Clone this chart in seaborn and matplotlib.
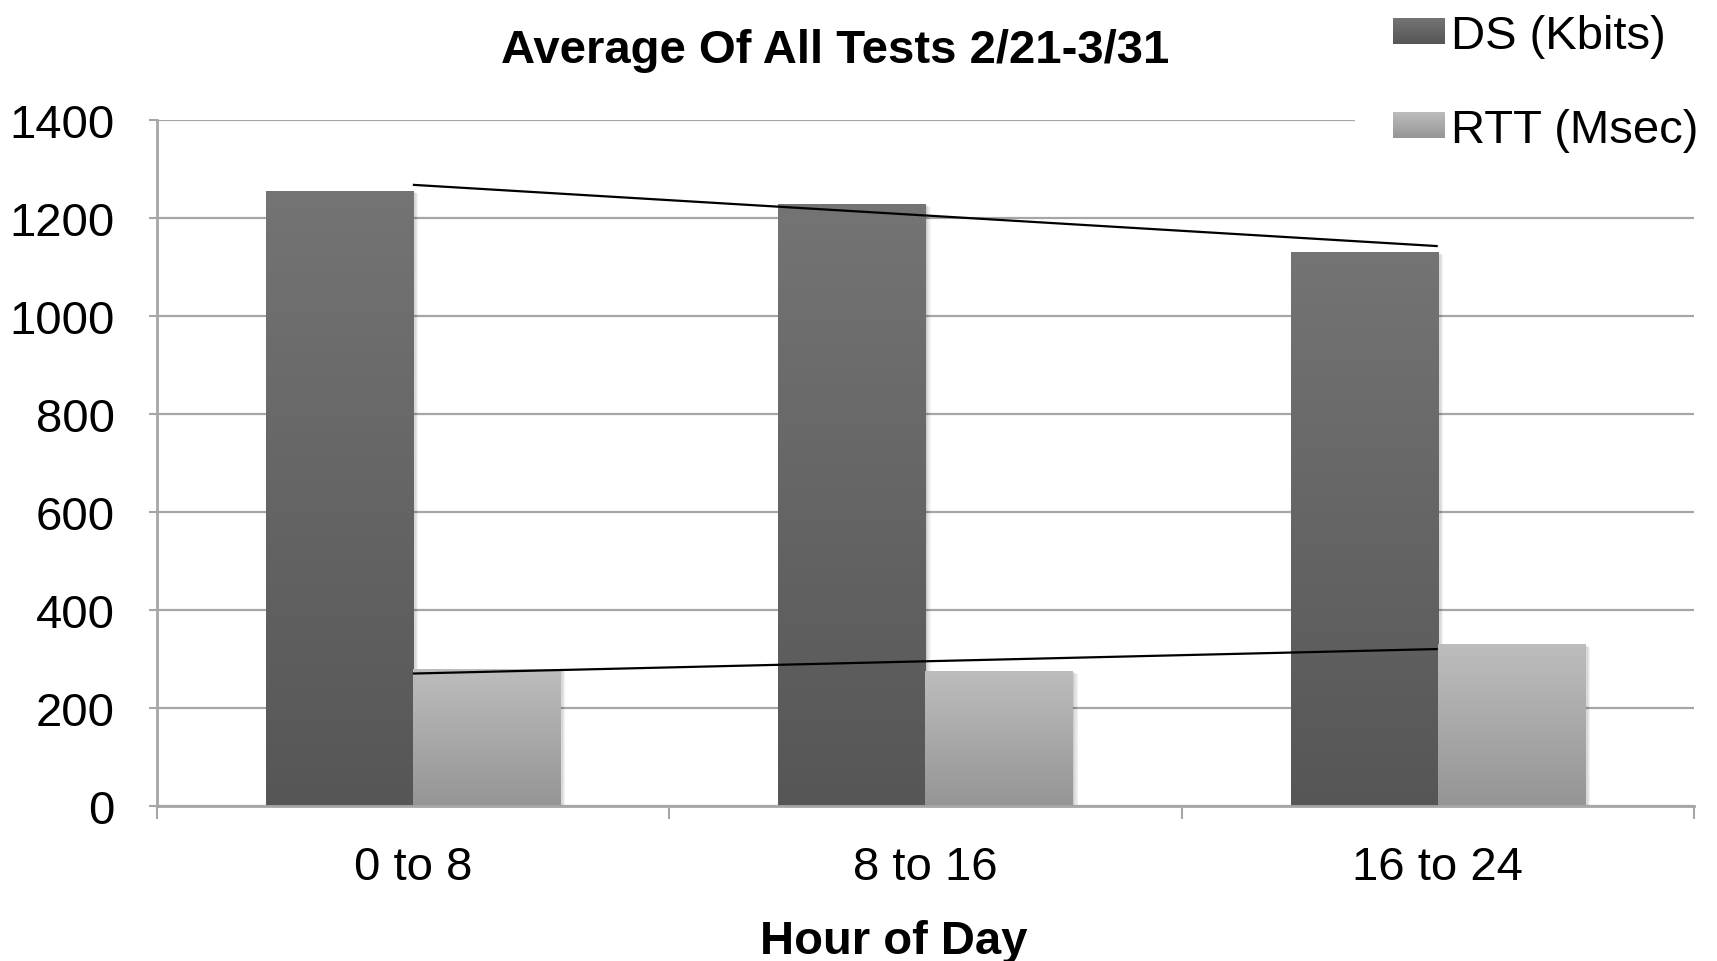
import numpy as np
import pandas as pd
import matplotlib
matplotlib.use("Agg")
import matplotlib.pyplot as plt
import matplotlib.patheffects as pe
from matplotlib.patches import Patch
from matplotlib.colors import LinearSegmentedColormap
import seaborn as sns

# Averages per time-of-day window
hours = ["0 to 8", "8 to 16", "16 to 24"]
ds_kbits = [1255, 1228, 1130]
rtt_msec = [280, 275, 330]
series_names = ["DS (Kbits)", "RTT (Msec)"]
y_ticks = [0, 200, 400, 600, 800, 1000, 1200, 1400]

df = pd.DataFrame({
    "Hour of Day": hours * 2,
    "value": ds_kbits + rtt_msec,
    "series": [series_names[0]] * len(hours) + [series_names[1]] * len(hours),
})

sns.set_theme(style="white")
plt.rcParams["font.family"] = ["Liberation Sans", "DejaVu Sans"]

FS = 34
GRID = "#a6a6a6"

fig = plt.figure(figsize=(17.17, 9.62), dpi=100)
ax = fig.add_axes([0.0912, 0.1612, 0.8954, 0.7135])

# (top, bottom) colours of each series' vertical gradient
grad = {series_names[0]: ("#747474", "#565656"),
        series_names[1]: ("#bdbdbd", "#959595")}

sns.barplot(data=df, x="Hour of Day", y="value", hue="series",
            order=hours, hue_order=series_names,
            palette=[grad[s][0] for s in series_names], saturation=1,
            width=0.574, edgecolor="none", linewidth=0,
            legend=False, ax=ax, zorder=2)

# soft drop shadow + gradient fill clipped to each bar
shadow = [pe.SimplePatchShadow(offset=(o, -o * 0.5), shadow_rgbFace="black",
                               alpha=0.05) for o in (1, 2, 3, 4)] + [pe.Normal()]
ramp = np.linspace(0, 1, 256).reshape(-1, 1)
for cont, name in zip(ax.containers, series_names):
    top, bot = grad[name]
    cmap = LinearSegmentedColormap.from_list(name, [bot, top])
    for bar in cont:
        bar.set_path_effects(shadow)
        x0, y0 = bar.get_x(), bar.get_y()
        w, h = bar.get_width(), bar.get_height()
        im = ax.imshow(ramp, cmap=cmap, origin="lower", aspect="auto",
                       extent=(x0, x0 + w, y0, y0 + h), zorder=2.1,
                       interpolation="bilinear")
        im.set_clip_path(bar)

# linear trendlines through the category centres
xs = np.arange(len(hours))
for vals in (ds_kbits, rtt_msec):
    slope, icpt = np.polyfit(xs, vals, 1)
    ends = np.array([xs[0], xs[-1]])
    ax.plot(ends, slope * ends + icpt, color="black", lw=1.6, zorder=3,
            solid_capstyle="butt")

ax.set_xlim(-0.5, len(hours) - 0.5)
ax.set_ylim(0, 1400)
ax.set_yticks(y_ticks)
ax.set_yticklabels([str(t) for t in y_ticks])

# category boundaries get tick marks, centres get the labels
ax.set_xticks(np.arange(len(hours) + 1) - 0.5)
ax.set_xticklabels([])
ax.set_xticks(xs, minor=True)
ax.set_xticklabels(hours, minor=True)
ax.tick_params(axis="x", which="major", direction="out", length=9, width=1.5,
               color=GRID, bottom=True)
ax.tick_params(axis="x", which="minor", length=0, pad=28, labelsize=FS,
               labelcolor="black", bottom=True)
ax.tick_params(axis="y", direction="out", length=6, width=1.5, color=GRID,
               left=True, pad=24, labelsize=FS, labelcolor="black")

ax.yaxis.grid(True, color=GRID, lw=1.6)
ax.xaxis.grid(False)
ax.set_axisbelow(True)
for side in ("top", "right"):
    ax.spines[side].set_visible(False)
for side in ("left", "bottom"):
    ax.spines[side].set_color(GRID)
    ax.spines[side].set_linewidth(2)

ax.set_ylabel("")
ax.set_xlabel("Hour of Day", fontsize=FS, fontweight="bold", color="black")
ax.xaxis.set_label_coords(0.4796, -0.1975)
ax.xaxis.label.set_va("center")

ax.set_title("Average Of All Tests 2/21-3/31", fontsize=FS, fontweight="bold",
             color="black", x=0.4413, y=1.102, va="center", pad=0)


class GradientLegendPatch:
    """Legend key drawn as a small vertical gradient swatch."""

    def __init__(self, top, bottom):
        self.cmap = LinearSegmentedColormap.from_list("key", [bottom, top])

    def legend_artist(self, legend, orig_handle, fontsize, handlebox):
        from matplotlib.image import BboxImage
        from matplotlib.transforms import Bbox, TransformedBbox
        x0, y0 = handlebox.xdescent, handlebox.ydescent
        w, h = handlebox.width, handlebox.height
        bb = TransformedBbox(Bbox.from_bounds(-x0, -y0, w, h),
                             handlebox.get_transform())
        img = BboxImage(bb, cmap=self.cmap, interpolation="bilinear",
                        origin="lower")
        img.set_data(ramp)
        handlebox.add_artist(img)
        return img


handles = [Patch(facecolor=grad[s][0], edgecolor="none") for s in series_names]
handler_map = {h: GradientLegendPatch(*grad[s]) for h, s in zip(handles, series_names)}
leg = ax.legend(handles, series_names, loc="upper left",
                bbox_to_anchor=(1355 / 1717, 1.024),
                bbox_transform=fig.transFigure, frameon=True,
                facecolor="white", edgecolor="none", framealpha=1,
                fancybox=False, borderpad=0.8, borderaxespad=0,
                handlelength=1.1, handleheight=0.47, handletextpad=0.13,
                labelspacing=1.06, fontsize=FS, handler_map=handler_map)
for t in leg.get_texts():
    t.set_color("black")

fig.savefig("out.png", dpi=100, facecolor="white")
